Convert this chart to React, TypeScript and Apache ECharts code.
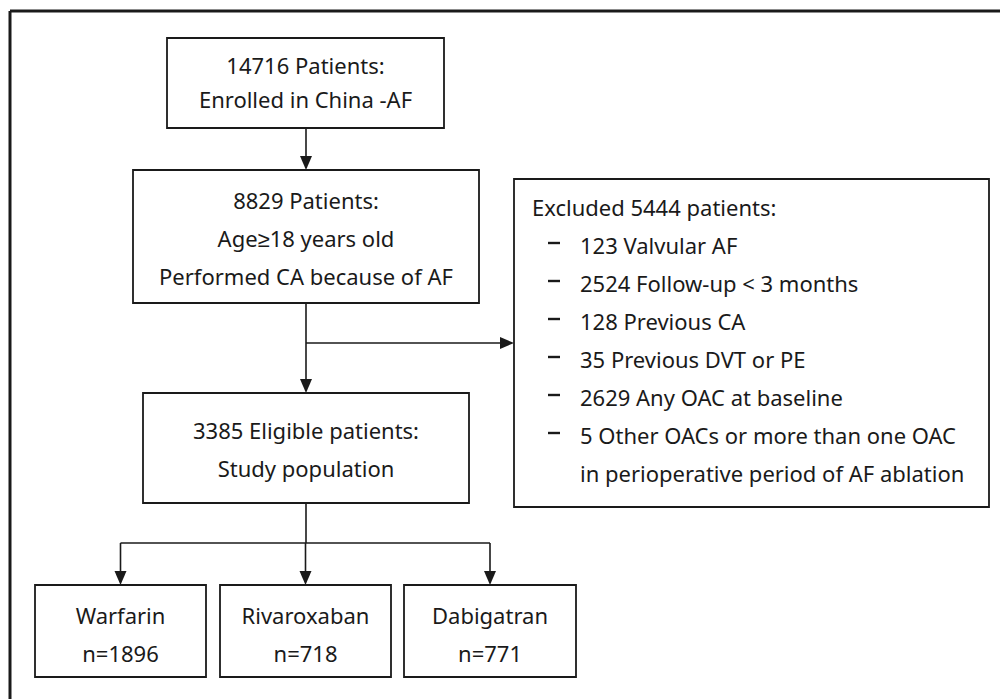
import React, { useEffect, useRef } from "react";
import * as echarts from "echarts";

// ---- data ----
const stageCounts = [14716, 8829, 3385];
const stageLabels = [
  ["Patients:", "Enrolled in China -AF"],
  ["Patients:", "Age\u226518 years old", "Performed CA because of AF"],
  ["Eligible patients:", "Study population"],
];
const excludedTotal = 5444;
const exclusionCounts = [123, 2524, 128, 35, 2629, 5];
const exclusionReasons = [
  ["Valvular AF"],
  ["Follow-up < 3 months"],
  ["Previous CA"],
  ["Previous DVT or PE"],
  ["Any OAC at baseline"],
  ["Other OACs or more than one OAC", "in perioperative period of AF ablation"],
];
const groupNames = ["Warfarin", "Rivaroxaban", "Dabigatran"];
const groupCounts = [1896, 718, 771];

// ---- layout (positions / sizes / styles) ----
const FONT = "'Noto Sans', sans-serif";
const FS = 22;
const INK = "#1a1a1a";
const stageBoxes = [
  { x: 167, y: 38, w: 277, h: 90, lineYs: [65, 99] },
  { x: 133, y: 170, w: 346, h: 133, lineYs: [200, 238, 276] },
  { x: 143, y: 393, w: 326, h: 110, lineYs: [430, 468] },
];
const exclBox = { x: 514, y: 179, w: 475, h: 328, headerY: 207, firstY: 245, step: 38, dashX: 548, textX: 580, headX: 532 };
const groupBoxes = [
  { x: 35, y: 585, w: 171, h: 92 },
  { x: 220, y: 585, w: 171, h: 92 },
  { x: 404, y: 585, w: 172, h: 92 },
];
const groupLineYs = [615, 653];
const spineX = 306;
const branchY = 343;
const splitY = 543;

function arrowDown(x: number, yTip: number): any {
  return {
    type: "polygon",
    shape: { points: [[x - 6, yTip - 14], [x + 6, yTip - 14], [x, yTip]] },
    style: { fill: INK },
  };
}
function arrowRight(xTip: number, y: number): any {
  return {
    type: "polygon",
    shape: { points: [[xTip - 14, y - 6], [xTip - 14, y + 6], [xTip, y]] },
    style: { fill: INK },
  };
}
function line(x1: number, y1: number, x2: number, y2: number, lw = 1.6): any {
  return { type: "line", shape: { x1, y1, x2, y2 }, style: { stroke: INK, lineWidth: lw } };
}
function rect(b: { x: number; y: number; w: number; h: number }): any {
  return {
    type: "rect",
    shape: { x: b.x, y: b.y, width: b.w, height: b.h },
    style: { fill: "#fff", stroke: INK, lineWidth: 1.8 },
  };
}
function text(t: string, x: number, y: number, align = "center"): any {
  return {
    type: "text",
    style: { text: t, x, y, fill: INK, fontSize: FS, fontFamily: FONT, align, verticalAlign: "middle" },
  };
}

export default function App() {
  const ref = useRef<HTMLDivElement>(null);
  useEffect(() => {
    document.body.style.margin = "0";
    const chart = echarts.init(ref.current!, null, { renderer: "svg" });
    const els: any[] = [];
    // outer frame
    els.push(line(10, 11, 1000, 11, 3));
    els.push(line(10, 11, 10, 699, 3));

    // connectors
    els.push(line(spineX, stageBoxes[0].y + stageBoxes[0].h, spineX, stageBoxes[1].y - 13));
    els.push(arrowDown(spineX, stageBoxes[1].y));
    els.push(line(spineX, stageBoxes[1].y + stageBoxes[1].h, spineX, stageBoxes[2].y - 13));
    els.push(arrowDown(spineX, stageBoxes[2].y));
    els.push(line(spineX, branchY, exclBox.x - 13, branchY));
    els.push(arrowRight(exclBox.x, branchY));
    els.push(line(spineX, stageBoxes[2].y + stageBoxes[2].h, spineX, splitY));
    const cxs = groupBoxes.map((b) => b.x + b.w / 2);
    els.push(line(cxs[0], splitY, cxs[cxs.length - 1], splitY));
    groupBoxes.forEach((b, i) => {
      els.push(line(cxs[i], splitY, cxs[i], b.y - 13));
      els.push(arrowDown(cxs[i], b.y));
    });

    // stage boxes
    stageBoxes.forEach((b, i) => {
      els.push(rect(b));
      const cx = b.x + b.w / 2;
      stageLabels[i].forEach((l, j) => {
        const t = j === 0 ? `${stageCounts[i]} ${l}` : l;
        els.push(text(t, cx, b.lineYs[j]));
      });
    });

    // exclusion box
    els.push(rect(exclBox));
    els.push(text(`Excluded ${excludedTotal} patients:`, exclBox.headX, exclBox.headerY, "left"));
    let row = 0;
    exclusionCounts.forEach((c, i) => {
      const y = exclBox.firstY + row * exclBox.step;
      els.push(line(exclBox.dashX, y - 2, exclBox.dashX + 12, y - 2, 2.4));
      exclusionReasons[i].forEach((r, j) => {
        const yy = exclBox.firstY + row * exclBox.step;
        els.push(text(j === 0 ? `${c} ${r}` : r, exclBox.textX, yy, "left"));
        row++;
      });
    });

    // group boxes
    groupBoxes.forEach((b, i) => {
      els.push(rect(b));
      const cx = b.x + b.w / 2;
      els.push(text(groupNames[i], cx, groupLineYs[0]));
      els.push(text(`n=${groupCounts[i]}`, cx, groupLineYs[1]));
    });

    chart.setOption({ animation: false, graphic: { elements: els } });
    return () => chart.dispose();
  }, []);
  return <div ref={ref} style={{ width: 1000, height: 699, background: "#fff" }} />;
}
